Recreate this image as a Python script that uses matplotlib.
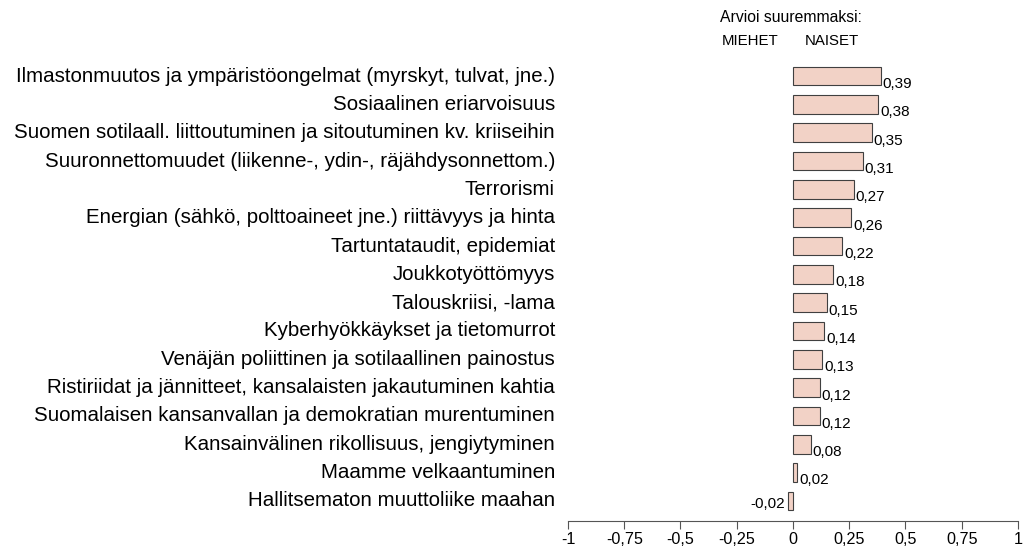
import matplotlib.pyplot as plt

# data
labels = [
    "Ilmastonmuutos ja ympäristöongelmat (myrskyt, tulvat, jne.)",
    "Sosiaalinen eriarvoisuus",
    "Suomen sotilaall. liittoutuminen ja sitoutuminen kv. kriiseihin",
    "Suuronnettomuudet (liikenne-, ydin-, räjähdysonnettom.)",
    "Terrorismi",
    "Energian (sähkö, polttoaineet jne.) riittävyys ja hinta",
    "Tartuntataudit, epidemiat",
    "Joukkotyöttömyys",
    "Talouskriisi, -lama",
    "Kyberhyökkäykset ja tietomurrot",
    "Venäjän poliittinen ja sotilaallinen painostus",
    "Ristiriidat ja jännitteet, kansalaisten jakautuminen kahtia",
    "Suomalaisen kansanvallan ja demokratian murentuminen",
    "Kansainvälinen rikollisuus, jengiytyminen",
    "Maamme velkaantuminen",
    "Hallitsematon muuttoliike maahan",
]
values = [0.39, 0.38, 0.35, 0.31, 0.27, 0.26, 0.22, 0.18, 0.15, 0.14,
          0.13, 0.12, 0.12, 0.08, 0.02, -0.02]
ticks = [-1, -0.75, -0.5, -0.25, 0, 0.25, 0.5, 0.75, 1]

plt.rcParams['font.family'] = ['Liberation Sans', 'DejaVu Sans']

fig = plt.figure(figsize=(10.24, 5.48), dpi=100)
ax = fig.add_axes([0.5547, 0.0493, 0.4394, 0.841])

pos = list(range(len(values)))
ax.barh(pos, values, height=0.66, color='#f2d2c6', edgecolor='#404040', linewidth=0.8)

for p, v in zip(pos, values):
    txt = f"{v:.2f}".replace('.', ',')
    if v >= 0:
        ax.text(v + 0.008, p + 0.28, txt, ha='left', va='center', fontsize=11)
    else:
        ax.text(v - 0.015, p + 0.1, txt, ha='right', va='center', fontsize=11)
    ax.text(-1.058, p, labels[p], ha='right', va='center', fontsize=14.8)

ax.set_xlim(-1, 1)
ax.set_ylim(15.71, -0.565)
ax.set_xticks(ticks)
ax.set_xticklabels([("%g" % t).replace('.', ',') for t in ticks], fontsize=11.6)
ax.set_yticks([])
for s in ['top', 'right', 'left']:
    ax.spines[s].set_visible(False)
ax.spines['bottom'].set_color('#555555')
ax.tick_params(axis='x', direction='out', length=6, color='#555555', pad=2)

fig.text(791 / 1024, 1 - 17 / 548, "Arvioi suuremmaksi:", ha='center', va='center', fontsize=11.3)
fig.text(750 / 1024, 1 - 41 / 548, "MIEHET", ha='center', va='center', fontsize=10.8)
fig.text(832 / 1024, 1 - 41 / 548, "NAISET", ha='center', va='center', fontsize=10.8)

fig.savefig("out.png", dpi=100)
